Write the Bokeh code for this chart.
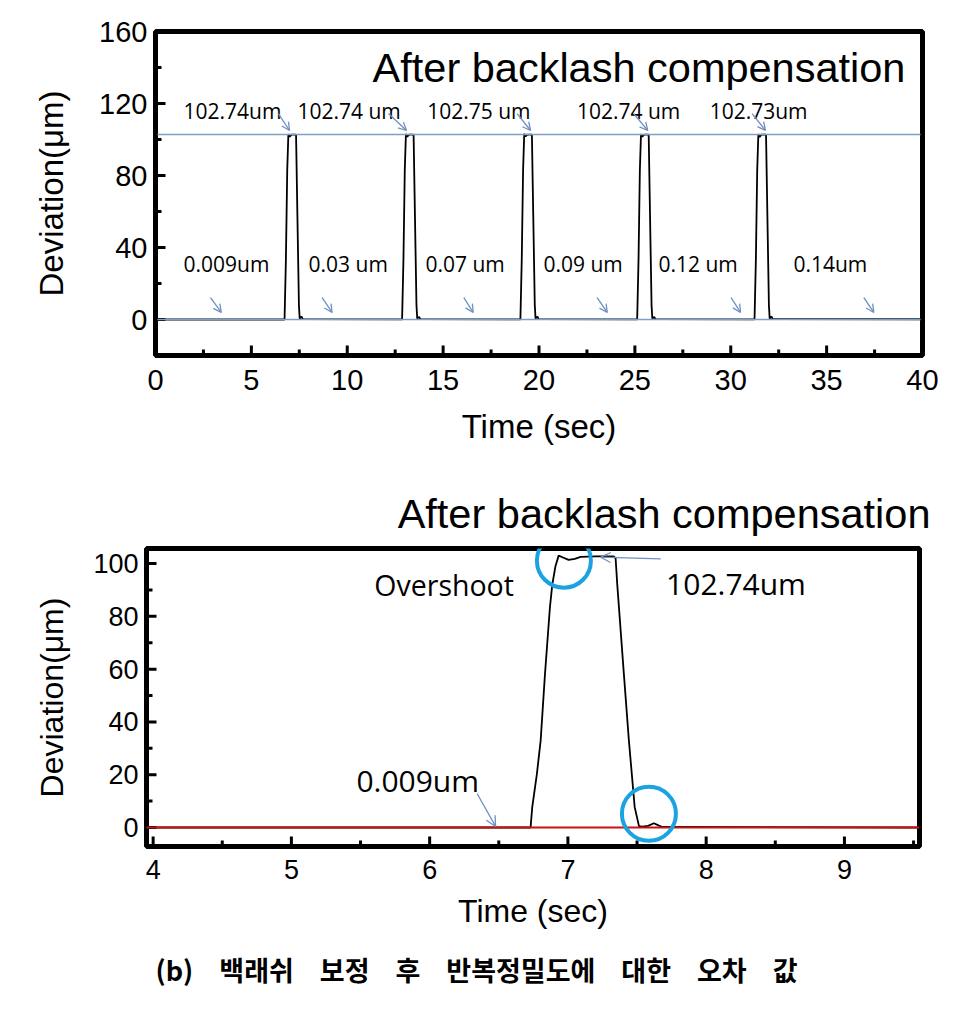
from bokeh.plotting import figure
from bokeh.models import Range1d, FixedTicker, Arrow, OpenHead, Label, Title
from bokeh.embed import file_html
from bokeh.resources import INLINE
from bokeh.core.properties import value

# ---------------- data: top panel (0-40 s) ----------------
top_t = [0.0, 6.73, 6.80, 6.87, 6.93, 7.00, 7.09, 7.33, 7.40, 7.48, 7.52, 7.62, 7.68,
         12.86, 12.93, 13.00, 13.06, 13.13, 13.22, 13.46, 13.53, 13.61, 13.65, 13.75, 13.81,
         19.03, 19.10, 19.17, 19.23, 19.30, 19.39, 19.63, 19.70, 19.78, 19.82, 19.92, 19.98,
         25.12, 25.19, 25.26, 25.32, 25.39, 25.48, 25.72, 25.79, 25.87, 25.91, 26.01, 26.07,
         31.24, 31.31, 31.38, 31.44, 31.51, 31.60, 31.84, 31.91, 31.99, 32.03, 32.13, 32.19,
         40.0]
top_dev = [0.009, 0.009, 33, 83, 103.0, 101.5, 102.7, 102.74, 58, 8, 0.5, 1.6, 0.2,
           0.03, 33, 83, 103.1, 101.6, 102.7, 102.74, 58, 8, 0.5, 1.5, 0.2,
           0.07, 33, 83, 103.2, 101.7, 102.75, 102.75, 58, 8, 0.5, 1.6, 0.2,
           0.09, 33, 83, 103.0, 101.5, 102.74, 102.74, 58, 8, 0.5, 1.5, 0.2,
           0.12, 33, 83, 103.0, 101.4, 102.73, 102.73, 58, 8, 0.5, 1.6, 0.2,
           0.14]
ref_t = [0.1, 39.9]
ref_high = [102.74, 102.74]
ref_low = [0.0, 0.0]

peak_labels = ["102.74um", "102.74 um", "102.75 um", "102.74 um", "102.73um"]
peak_label_t = [1.46, 7.40, 14.17, 21.98, 28.90]
peak_label_dev = 116.1
peak_arrow_t0 = [6.41, 12.15, 18.86, 24.94, 31.12]
peak_arrow_t1 = [6.99, 13.09, 19.56, 25.67, 31.81]
peak_arrow_dev = [114.4, 105.0]

base_labels = ["0.009um", "0.03 um", "0.07 um", "0.09 um", "0.12 um", "0.14um"]
base_label_t = [1.46, 7.98, 14.08, 20.23, 26.23, 33.27]
base_label_dev = 31.1
base_arrow_t0 = [2.87, 8.69, 16.08, 23.03, 30.02, 36.94]
base_arrow_t1 = [3.43, 9.21, 16.57, 23.56, 30.51, 37.46]
base_arrow_dev = [12.2, 3.9]

top_xticks = [0, 5, 10, 15, 20, 25, 30, 35, 40]
top_xminor = [2.5, 7.5, 12.5, 17.5, 22.5, 27.5, 32.5, 37.5]
top_yticks = [0, 40, 80, 120, 160]
top_yminor = [-20, 20, 60, 100, 140]

# ---------------- data: bottom panel (zoom on first pulse) ----------------
zoom_t = [3.95, 6.73, 6.742, 6.775, 6.803, 6.834, 6.870, 6.887, 6.91, 6.933, 6.96, 7.005,
          7.05, 7.092, 7.20, 7.331, 7.345, 7.357, 7.405, 7.441, 7.483, 7.514, 7.538, 7.58,
          7.622, 7.655, 7.683, 9.54]
zoom_dev = [0.0, 0.0, 7.7, 20, 33, 58, 83.5, 92, 99, 103.0, 102.4, 101.4,
            101.8, 102.5, 102.74, 102.74, 102.0, 92, 58, 33, 7.7, 0.5, 0.3, 0.6,
            1.6, 0.8, 0.2, 0.0]
red_t = [3.95, 9.54]
red_dev = [0.009, 0.009]
circle_t = [6.971, 7.586]
circle_dev = [101.1, 5.2]

zoom_xticks = [4, 5, 6, 7, 8, 9]
zoom_xminor = [4.5, 5.5, 6.5, 7.5, 8.5, 9.5]
zoom_yticks = [0, 20, 40, 60, 80, 100]
zoom_yminor = [10, 30, 50, 70, 90]

TITLE = "After backlash compensation"
CAPTION_WORDS = ["(b)", "백래쉬", "보정", "후", "반복정밀도에", "대한", "오차", "값"]

FONT = "Liberation Sans"
ANN_FONT = "Open Sans"
BLUE = "#7f9fc8"
ARROW = "#6f8fc0"
FIG_W = 960


def style(p, tick_px, label_px, ylab_standoff, xlab_standoff, xlbl_standoff):
    for ax in (p.xaxis[0], p.yaxis[0]):
        ax.axis_line_color = None
        ax.major_tick_in = 0
        ax.major_tick_out = 0
        ax.minor_tick_in = 0
        ax.minor_tick_out = 0
        ax.major_tick_line_color = None
        ax.minor_tick_line_color = None
        ax.major_label_text_font = FONT
        ax.major_label_text_font_size = tick_px
        ax.major_label_text_color = "black"
        ax.axis_label_text_font = FONT
        ax.axis_label_text_font_size = label_px
        ax.axis_label_text_font_style = "normal"
        ax.axis_label_text_color = "black"
    p.yaxis[0].major_label_standoff = 8
    p.xaxis[0].major_label_standoff = xlbl_standoff
    p.yaxis[0].axis_label_standoff = ylab_standoff
    p.xaxis[0].axis_label_standoff = xlab_standoff
    p.xgrid.visible = False
    p.ygrid.visible = False
    p.outline_line_color = "black"
    p.outline_line_width = 5
    p.outline_line_alpha = 1.0


def inward_ticks(p, xr, yr, xmaj, xmin, ymaj, ymin, frame_w, frame_h):
    # tick lengths expressed in pixels, converted through the plot scales
    px_x = (xr[1] - xr[0]) / frame_w
    px_y = (yr[1] - yr[0]) / frame_h
    y0 = yr[0]
    x0 = xr[0]
    p.segment(x0=xmaj, y0=[y0] * len(xmaj), x1=xmaj, y1=[y0 + 10 * px_y] * len(xmaj),
              line_color="black", line_width=3)
    p.segment(x0=xmin, y0=[y0] * len(xmin), x1=xmin, y1=[y0 + 6 * px_y] * len(xmin),
              line_color="black", line_width=3)
    p.segment(x0=[x0] * len(ymaj), y0=ymaj, x1=[x0 + 10 * px_x] * len(ymaj), y1=ymaj,
              line_color="black", line_width=3)
    p.segment(x0=[x0] * len(ymin), y0=ymin, x1=[x0 + 6 * px_x] * len(ymin), y1=ymin,
              line_color="black", line_width=3)


# ---------------- top figure ----------------
TXR = (0, 40)
TYR = (-20, 160)
T_LEFT, T_TOP, T_FW, T_FH, T_H = 155, 31, 767, 324, 450
p1 = figure(width=FIG_W, height=T_H, output_backend="svg", toolbar_location=None,
            x_range=Range1d(*TXR), y_range=Range1d(*TYR),
            min_border_left=T_LEFT, min_border_right=FIG_W - T_LEFT - T_FW,
            min_border_top=T_TOP, min_border_bottom=T_H - T_TOP - T_FH,
            background_fill_color="white", border_fill_color="white")
p1.xaxis.axis_label = "Time (sec)"
p1.yaxis.axis_label = "Deviation(μm)"
p1.xaxis.ticker = FixedTicker(ticks=top_xticks, minor_ticks=top_xminor)
p1.yaxis.ticker = FixedTicker(ticks=top_yticks, minor_ticks=top_yminor)
style(p1, "29px", "33px", 26, 15, 14)
inward_ticks(p1, TXR, TYR, top_xticks, top_xminor, top_yticks, top_yminor, T_FW, T_FH)

p1.line(top_t, top_dev, line_color="black", line_width=1.8)
p1.line(ref_t, ref_high, line_color=BLUE, line_width=1.6)
p1.line(ref_t, ref_low, line_color=BLUE, line_width=1.6)

p1.add_layout(Label(x=39.11, y=140, text=TITLE, text_align="right",
                    text_baseline="middle", text_font=FONT, text_font_size="41.5px",
                    text_color="black"))

for lab, lx in zip(peak_labels, peak_label_t):
    p1.add_layout(Label(x=lx, y=peak_label_dev, text=lab, text_align="left",
                        text_baseline="middle", text_font=ANN_FONT,
                        text_font_size="21px", text_color="black"))
for x0, x1 in zip(peak_arrow_t0, peak_arrow_t1):
    p1.add_layout(Arrow(end=OpenHead(size=8, line_color=ARROW, line_width=1.3),
                        x_start=x0, y_start=peak_arrow_dev[0],
                        x_end=x1, y_end=peak_arrow_dev[1],
                        line_color=ARROW, line_width=1.3))
for lab, lx in zip(base_labels, base_label_t):
    p1.add_layout(Label(x=lx, y=base_label_dev, text=lab, text_align="left",
                        text_baseline="middle", text_font=ANN_FONT,
                        text_font_size="21px", text_color="black"))
for x0, x1 in zip(base_arrow_t0, base_arrow_t1):
    p1.add_layout(Arrow(end=OpenHead(size=8, line_color=ARROW, line_width=1.3),
                        x_start=x0, y_start=base_arrow_dev[0],
                        x_end=x1, y_end=base_arrow_dev[1],
                        line_color=ARROW, line_width=1.3))

# ---------------- bottom figure ----------------
BXR = (3.952, 9.543)
BYR = (-7.2, 105.7)
B_LEFT, B_TOP, B_FW, B_FH, B_H = 146, 98, 773, 298, 485
p2 = figure(width=FIG_W, height=B_H, output_backend="svg", toolbar_location=None,
            x_range=Range1d(*BXR), y_range=Range1d(*BYR),
            min_border_left=B_LEFT, min_border_right=FIG_W - B_LEFT - B_FW,
            min_border_top=B_TOP, min_border_bottom=B_H - B_TOP - B_FH,
            background_fill_color="white", border_fill_color="white")
p2.title = Title(text=TITLE, align="right", text_font=FONT, text_font_size="41.5px",
                 text_font_style="normal", text_color="black", offset=-11, standoff=24)
p2.xaxis.axis_label = "Time (sec)"
p2.yaxis.axis_label = "Deviation(μm)"
p2.xaxis.ticker = FixedTicker(ticks=zoom_xticks, minor_ticks=zoom_xminor)
p2.yaxis.ticker = FixedTicker(ticks=zoom_yticks, minor_ticks=zoom_yminor)
style(p2, "27px", "32px", 20, 11, 13)
inward_ticks(p2, BXR, BYR, zoom_xticks, zoom_xminor, zoom_yticks, zoom_yminor, B_FW, B_FH)

p2.line(zoom_t, zoom_dev, line_color="black", line_width=1.8)
p2.line(red_t, red_dev, line_color="#cc1111", line_width=2)
p2.scatter(circle_t, circle_dev, marker="circle", size=54, fill_color=None,
           line_color="#1aa3e0", line_width=4)

p2.add_layout(Label(x=5.60, y=91.7, text="Overshoot", text_align="left",
                    text_baseline="middle", text_font=ANN_FONT,
                    text_font_size="28.5px", text_color="black"))
p2.add_layout(Label(x=7.71, y=92.4, text="102.74um", text_align="left",
                    text_baseline="middle", text_font=ANN_FONT,
                    text_font_size="30px", text_color="black"))
p2.add_layout(Label(x=5.47, y=17.8, text="0.009um", text_align="left",
                    text_baseline="middle", text_font=ANN_FONT,
                    text_font_size="30px", text_color="black"))
p2.add_layout(Arrow(end=OpenHead(size=10, line_color=ARROW, line_width=1.3),
                    x_start=6.344, y_start=12.8, x_end=6.477, y_end=0.4,
                    line_color=ARROW, line_width=1.3))
p2.add_layout(Arrow(end=OpenHead(size=10, line_color=ARROW, line_width=1.3),
                    x_start=7.671, y_start=101.8, x_end=7.237, y_end=102.4,
                    line_color=ARROW, line_width=1.3))

# ---------------- caption ----------------
C_H = 65
p3 = figure(width=FIG_W, height=C_H, output_backend="svg", toolbar_location=None,
            x_range=Range1d(0, FIG_W), y_range=Range1d(0, C_H),
            min_border=0, background_fill_color="white", border_fill_color="white")
p3.axis.visible = False
p3.xgrid.visible = False
p3.ygrid.visible = False
p3.outline_line_color = None
CAP_PX = 27
char_w = [CAP_PX * (1.4 if w.startswith("(") else 0.92 * len(w)) for w in CAPTION_WORDS]
cap_left, cap_right = 155, 797
gap = (cap_right - cap_left - sum(char_w)) / (len(CAPTION_WORDS) - 1)
xs = []
cur = cap_left
for w in char_w:
    xs.append(cur)
    cur += w + gap
p3.text(x=xs, y=[C_H - 34] * len(xs), text=CAPTION_WORDS, text_align="left",
        text_baseline="middle", text_font=value("Noto Sans CJK KR"),
        text_font_size=f"{CAP_PX}px", text_font_style="bold", text_color="black")

open("out.html", "w").write(file_html([p1, p2, p3], INLINE))
